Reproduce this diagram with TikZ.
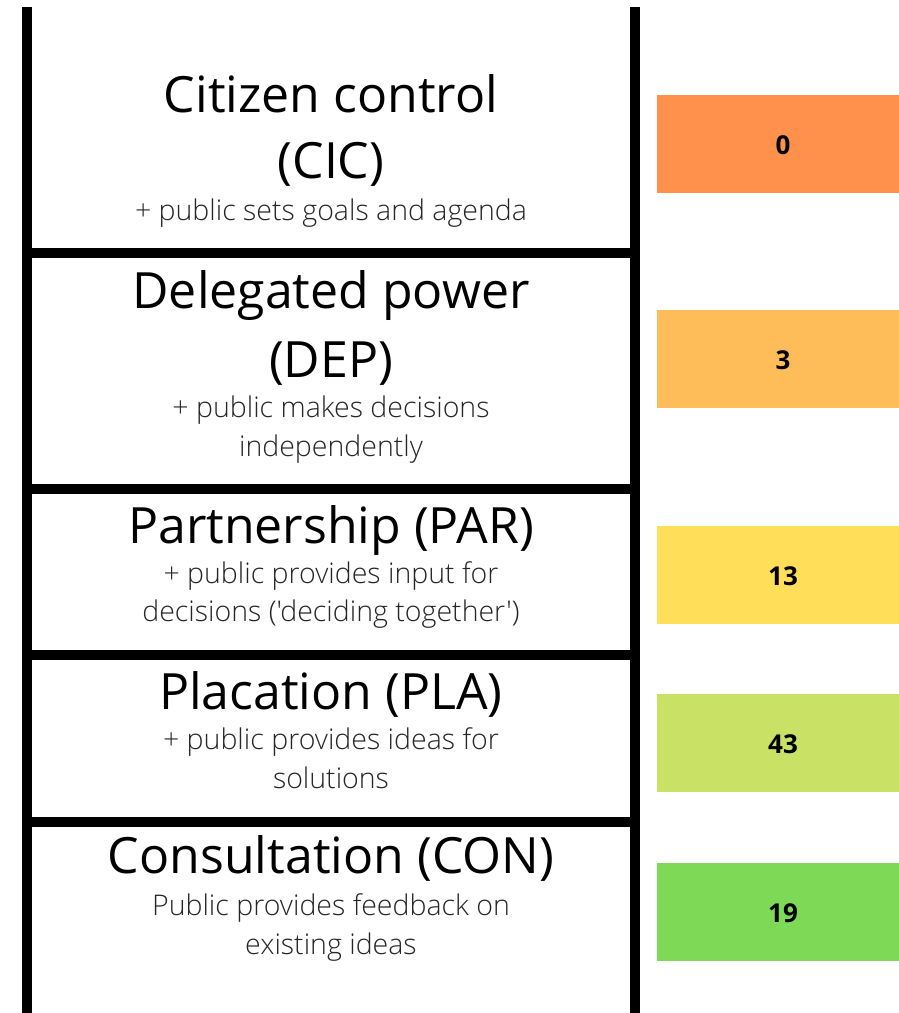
\documentclass[tikz,border=0pt]{standalone}
\usepackage{fontspec}
\setmainfont{Open Sans}
\newfontfamily\lightfont{Open Sans Light}
\definecolor{cO}{HTML}{FF914D}
\definecolor{cLO}{HTML}{FFBD59}
\definecolor{cY}{HTML}{FFDE59}
\definecolor{cYG}{HTML}{C9E265}
\definecolor{cG}{HTML}{7ED957}
\tikzset{
  rail/.style={line width=10pt, black},
  title/.style={anchor=base, inner sep=0pt, font=\fontsize{50}{50}\selectfont},
  sub/.style={anchor=base, inner sep=0pt, font=\lightfont\fontsize{28.5}{28.5}\selectfont, text=black!85},
  scorebox/.style={draw=none, minimum width=242pt, minimum height=98pt, inner sep=0pt, anchor=north west},
  score/.style={anchor=base, inner sep=0pt, font=\bfseries\fontsize{26}{26}\selectfont}
}
\begin{document}
\begin{tikzpicture}[x=1pt,y=-1pt]
\useasboundingbox (0,0) rectangle (899,1013);
% rails
\coordinate (lt) at (27,7); \coordinate (lb) at (27,1013);
\coordinate (rt) at (635,7); \coordinate (rb) at (635,1013);
\draw[rail] (lt) -- (lb);
\draw[rail] (rt) -- (rb);
% rungs
\foreach \y/\n in {253/a,489/b,655/c,822/d}{
  \coordinate (rl\n) at (32,\y); \coordinate (rr\n) at (630,\y);
  \draw[rail] (rl\n) -- (rr\n);
}
% texts
\node[title] (t1) at (331,112) {Citizen control};
\node[title] (t1b) at (331,178) {(CIC)};
\node[sub] (s1) at (331,220) {+ public sets goals and agenda};
\node[title] (t2) at (331,308) {Delegated power};
\node[title] (t2b) at (331,377) {(DEP)};
\node[sub] (s2) at (331,417) {+ public makes decisions};
\node[sub] (s2b) at (331,456) {independently};
\node[title] (t3) at (331,543) {Partnership (PAR)};
\node[sub] (s3) at (331,583) {+ public provides input for};
\node[sub] (s3b) at (331,621) {decisions ('deciding together')};
\node[title] (t4) at (331,709) {Placation (PLA)};
\node[sub] (s4) at (331,749) {+ public provides ideas for};
\node[sub] (s4b) at (331,788) {solutions};
\node[title] (t5) at (331,873) {Consultation (CON)};
\node[sub] (s5) at (331,915) {Public provides feedback on};
\node[sub] (s5b) at (331,954) {existing ideas};
% score boxes
\node[scorebox, fill=cO] (b1) at (657,95) {};
\node[scorebox, fill=cLO] (b2) at (657,310) {};
\node[scorebox, fill=cY] (b3) at (657,526) {};
\node[scorebox, fill=cYG] (b4) at (657,694) {};
\node[scorebox, fill=cG] (b5) at (657,863) {};
\node[score] (n1) at (783,154) {0};
\node[score] (n2) at (783,369) {3};
\node[score] (n3) at (783,585) {13};
\node[score] (n4) at (783,753) {43};
\node[score] (n5) at (783,922) {19};
\end{tikzpicture}
\end{document}
